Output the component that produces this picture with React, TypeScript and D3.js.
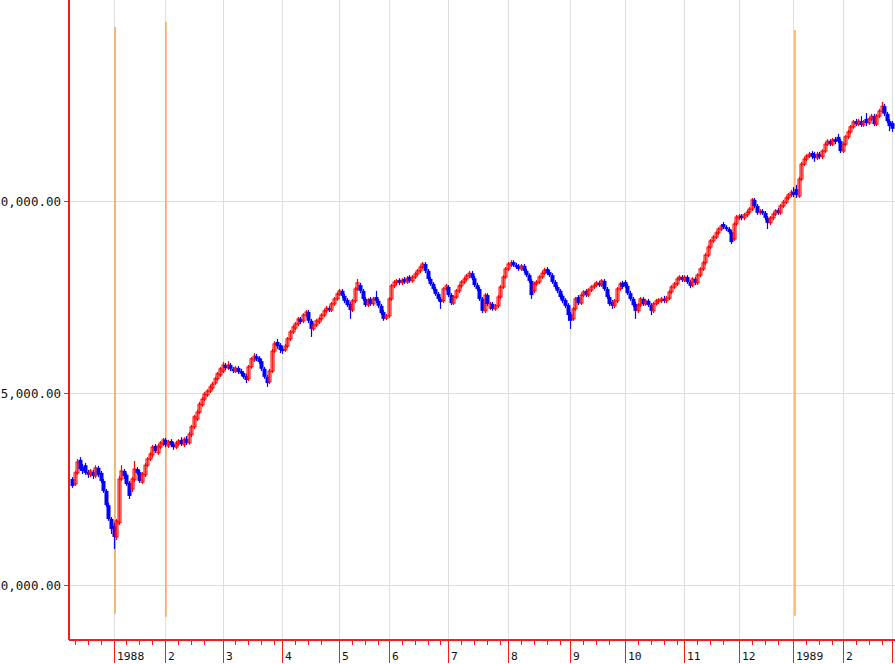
import React from "react";
import * as d3 from "d3";

type Bar = [number, number, number, number]; // open, high, low, close

// daily OHLC, one array per month
const dec87: Bar[] = [
  [22760, 22810, 22530, 22580], [22630, 22970, 22580, 22920], [22920, 23280, 22870, 23200],
  [23260, 23330, 22970, 23020], [23070, 23150, 22890, 22970], [23120, 23180, 22870, 22920],
  [22940, 23000, 22790, 22870], [22870, 23020, 22810, 22970], [22940, 23000, 22760, 22840],
  [22840, 23120, 22790, 23050], [23050, 23100, 22810, 22870], [22920, 22970, 22660, 22710],
  [22710, 22760, 22400, 22450], [22450, 22500, 22030, 22080], [22080, 22140, 21670, 21720],
  [21720, 21770, 21330, 21460],
];
const jan88: Bar[] = [
  [21540, 21620, 20940, 21250], [21250, 21720, 21170, 21670], [21620, 22840, 21560, 22760],
  [22760, 23120, 22710, 22970], [22970, 23020, 22760, 22840], [22870, 22920, 22580, 22630],
  [22660, 22710, 22240, 22320], [22500, 22810, 22420, 22760], [22740, 23230, 22680, 23020],
  [23020, 23070, 22870, 22920], [22940, 23000, 22660, 22710], [22680, 22940, 22630, 22890],
  [22870, 23180, 22810, 23120], [23120, 23330, 23070, 23280], [23280, 23460, 23230, 23410],
  [23390, 23650, 23330, 23590], [23620, 23670, 23440, 23490], [23440, 23670, 23390, 23620],
  [23590, 23750, 23540, 23700], [23670, 23830, 23620, 23780],
];
const feb88: Bar[] = [
  [23780, 23830, 23590, 23650], [23620, 23780, 23570, 23720], [23750, 23800, 23590, 23650],
  [23670, 23720, 23520, 23590], [23590, 23750, 23540, 23700], [23670, 23800, 23620, 23750],
  [23780, 23850, 23620, 23670], [23650, 23850, 23590, 23800], [23800, 23880, 23650, 23700],
  [23700, 23990, 23650, 23930], [23910, 24170, 23850, 24120], [24120, 24430, 24060, 24380],
  [24320, 24560, 24270, 24500], [24500, 24770, 24450, 24710], [24690, 24900, 24640, 24840],
  [24840, 25030, 24790, 24970], [24950, 25100, 24900, 25050], [25050, 25210, 25000, 25160],
  [25130, 25290, 25080, 25230], [25260, 25420, 25210, 25370], [25370, 25550, 25310, 25500],
  [25470, 25680, 25420, 25630],
];
const mar88: Bar[] = [
  [25570, 25810, 25520, 25730], [25730, 25780, 25600, 25650], [25650, 25830, 25600, 25730],
  [25730, 25780, 25570, 25630], [25630, 25680, 25520, 25570], [25570, 25700, 25520, 25650],
  [25650, 25700, 25500, 25550], [25570, 25630, 25440, 25500], [25520, 25570, 25370, 25420],
  [25440, 25500, 25260, 25340], [25370, 25730, 25310, 25680], [25680, 25940, 25630, 25890],
  [25860, 26040, 25810, 25960], [25960, 26020, 25830, 25890], [25910, 25960, 25760, 25810],
  [25830, 25890, 25570, 25630], [25630, 25680, 25370, 25420], [25420, 25470, 25160, 25260],
  [25290, 25630, 25230, 25570], [25570, 26150, 25520, 26090], [26090, 26350, 26040, 26280],
  [26330, 26410, 26150, 26220], [26250, 26300, 26040, 26120],
];
const apr88: Bar[] = [
  [26150, 26220, 26020, 26090], [26120, 26280, 26070, 26220], [26220, 26460, 26170, 26410],
  [26410, 26640, 26350, 26590], [26590, 26770, 26540, 26720], [26690, 26850, 26640, 26800],
  [26800, 26980, 26740, 26930], [26930, 26980, 26800, 26850], [26880, 27080, 26820, 27030],
  [27030, 27160, 26980, 27110], [27110, 27160, 26820, 26880], [26880, 26930, 26460, 26670],
  [26670, 26820, 26620, 26770], [26770, 26930, 26720, 26880], [26850, 26980, 26800, 26930],
  [26930, 27080, 26880, 27030], [27030, 27190, 26980, 27140], [27140, 27270, 27080, 27210],
  [27210, 27270, 27110, 27160], [27160, 27370, 27110, 27320], [27320, 27500, 27270, 27450],
  [27450, 27630, 27400, 27580],
];
const may88: Bar[] = [
  [27580, 27710, 27530, 27660], [27660, 27710, 27470, 27530], [27530, 27580, 27340, 27400],
  [27420, 27470, 27240, 27290], [27320, 27370, 26930, 27160], [27160, 27450, 27110, 27400],
  [27400, 27760, 27340, 27710], [27710, 27970, 27660, 27870], [27810, 27870, 27600, 27660],
  [27660, 27710, 27400, 27450], [27450, 27500, 27240, 27290], [27290, 27470, 27240, 27420],
  [27450, 27500, 27270, 27320], [27320, 27500, 27270, 27450], [27500, 27660, 27340, 27400],
  [27400, 27450, 27210, 27270], [27270, 27320, 27030, 27080], [27110, 27160, 26880, 26930],
  [26950, 27060, 26900, 27010],
];
const jun88: Bar[] = [
  [27010, 27500, 26950, 27450], [27450, 27840, 27400, 27790], [27790, 27940, 27730, 27890],
  [27870, 27970, 27810, 27920], [27940, 27990, 27810, 27870], [27870, 27990, 27810, 27940],
  [27970, 28020, 27840, 27890], [27890, 28050, 27840, 27990], [28020, 28070, 27870, 27920],
  [27920, 28070, 27870, 28020], [28020, 28150, 27970, 28100], [28100, 28230, 28050, 28180],
  [28180, 28330, 28120, 28280], [28280, 28410, 28230, 28360], [28360, 28410, 28120, 28180],
  [28180, 28230, 27920, 27970], [27970, 28020, 27790, 27840], [27840, 27890, 27660, 27710],
  [27710, 27760, 27530, 27580], [27580, 27630, 27400, 27450], [27450, 27500, 27190, 27370],
  [27400, 27760, 27340, 27710], [27710, 27840, 27660, 27790],
];
const jul88: Bar[] = [
  [27760, 27810, 27500, 27550], [27550, 27600, 27290, 27340], [27340, 27550, 27290, 27500],
  [27500, 27710, 27450, 27660], [27660, 27840, 27600, 27790], [27790, 27940, 27730, 27890],
  [27890, 28020, 27840, 27970], [27970, 28100, 27920, 28050], [28050, 28180, 27990, 28120],
  [28120, 28180, 27940, 27990], [27990, 28050, 27760, 27810], [27810, 27870, 27660, 27710],
  [27710, 27760, 27400, 27450], [27450, 27500, 27080, 27140], [27140, 27600, 27080, 27550],
  [27550, 27600, 27270, 27320], [27210, 27370, 27160, 27320], [27320, 27370, 27140, 27190],
  [27190, 27320, 27140, 27270], [27270, 27550, 27210, 27500], [27500, 27810, 27450, 27760],
  [27760, 28070, 27710, 28020], [28020, 28280, 27970, 28230],
];
const aug88: Bar[] = [
  [28230, 28410, 28180, 28360], [28330, 28460, 28280, 28390], [28410, 28460, 28280, 28330],
  [28330, 28390, 28230, 28280], [28310, 28360, 28180, 28230], [28230, 28360, 28180, 28310],
  [28310, 28360, 28120, 28180], [28180, 28230, 28020, 28070], [28070, 28120, 27870, 27920],
  [27920, 27970, 27450, 27550], [27660, 27890, 27600, 27840], [27840, 27940, 27790, 27890],
  [27890, 28070, 27840, 28020], [28020, 28180, 27970, 28120], [28120, 28260, 28070, 28200],
  [28230, 28280, 28070, 28120], [28150, 28200, 28020, 28070], [28070, 28120, 27840, 27890],
  [27890, 27940, 27710, 27760], [27760, 27810, 27600, 27660], [27660, 27710, 27450, 27500],
  [27530, 27580, 27340, 27400], [27420, 27470, 27210, 27270], [27290, 27340, 26880, 27030],
];
const sep88: Bar[] = [
  [27060, 27110, 26670, 26880], [26930, 27240, 26880, 27190], [27190, 27500, 27140, 27450],
  [27500, 27550, 27290, 27340], [27340, 27600, 27290, 27550], [27550, 27680, 27500, 27630],
  [27660, 27710, 27500, 27550], [27550, 27730, 27500, 27680], [27680, 27810, 27630, 27760],
  [27760, 27870, 27710, 27810], [27810, 27920, 27760, 27870], [27870, 27920, 27760, 27810],
  [27810, 27970, 27760, 27920], [27920, 27970, 27660, 27710], [27710, 27760, 27450, 27500],
  [27500, 27550, 27270, 27320], [27370, 27420, 27190, 27270], [27270, 27450, 27210, 27400],
  [27400, 27760, 27340, 27710], [27710, 27890, 27660, 27840], [27870, 27920, 27710, 27760],
];
const oct88: Bar[] = [
  [27890, 27940, 27730, 27790], [27790, 27840, 27550, 27600], [27600, 27660, 27400, 27450],
  [27450, 27500, 27240, 27290], [27320, 27370, 26930, 27140], [27140, 27340, 27080, 27290],
  [27290, 27500, 27240, 27450], [27450, 27500, 27270, 27320], [27320, 27450, 27270, 27400],
  [27400, 27450, 27240, 27290], [27290, 27340, 27030, 27140], [27140, 27370, 27080, 27320],
  [27320, 27450, 27270, 27400], [27370, 27470, 27320, 27420], [27400, 27500, 27340, 27450],
  [27450, 27530, 27340, 27400], [27400, 27530, 27340, 27470], [27470, 27680, 27420, 27630],
  [27630, 27810, 27580, 27760], [27760, 27890, 27710, 27840], [27840, 28020, 27790, 27970],
  [27970, 28070, 27920, 28020], [28020, 28070, 27890, 27940],
];
const nov88: Bar[] = [
  [27940, 28070, 27890, 28020], [28020, 28070, 27840, 27890], [27890, 27940, 27730, 27790],
  [27810, 28020, 27760, 27970], [27970, 28020, 27810, 27870], [27870, 28120, 27810, 28070],
  [28070, 28280, 28020, 28230], [28230, 28440, 28180, 28390], [28390, 28650, 28330, 28590],
  [28590, 28850, 28540, 28800], [28800, 29010, 28750, 28960], [28960, 29110, 28910, 29060],
  [29060, 29220, 29010, 29170], [29170, 29320, 29110, 29270], [29270, 29400, 29220, 29350],
  [29400, 29450, 29270, 29320], [29320, 29370, 29220, 29270], [29270, 29320, 29140, 29190],
  [29190, 29240, 28880, 28930], [29010, 29450, 28960, 29400], [29400, 29640, 29350, 29580],
];
const dec88: Bar[] = [
  [29560, 29660, 29500, 29610], [29610, 29660, 29500, 29560], [29560, 29690, 29500, 29640],
  [29640, 29770, 29580, 29710], [29710, 29840, 29660, 29790], [29790, 30080, 29740, 30030],
  [30030, 30080, 29820, 29870], [29870, 29920, 29640, 29690], [29690, 29790, 29640, 29740],
  [29740, 29790, 29640, 29690], [29690, 29740, 29500, 29560], [29560, 29610, 29270, 29430],
  [29430, 29610, 29370, 29560], [29560, 29710, 29500, 29660], [29660, 29790, 29610, 29740],
  [29770, 29820, 29640, 29690], [29690, 29920, 29640, 29870], [29870, 30030, 29820, 29970],
  [29970, 30130, 29920, 30080], [30080, 30210, 30030, 30160], [30160, 30290, 30100, 30230],
];
const jan89: Bar[] = [
  [30230, 30360, 30100, 30160], [30310, 30420, 30080, 30160], [30130, 30630, 30080, 30570],
  [30570, 31020, 30520, 30960], [30960, 31150, 30910, 31090], [31090, 31220, 31040, 31170],
  [31170, 31280, 31120, 31220], [31250, 31300, 31090, 31150], [31220, 31280, 31020, 31120],
  [31120, 31280, 31070, 31220], [31220, 31280, 31090, 31150], [31150, 31350, 31090, 31300],
  [31300, 31540, 31250, 31480], [31480, 31610, 31430, 31560], [31560, 31610, 31430, 31480],
  [31480, 31640, 31430, 31590], [31610, 31670, 31480, 31540], [31670, 31750, 31510, 31560],
  [31560, 31610, 31250, 31300],
];
const feb89: Bar[] = [
  [31300, 31540, 31250, 31480], [31480, 31720, 31430, 31670], [31670, 31850, 31610, 31800],
  [31800, 31980, 31750, 31930], [31930, 32110, 31880, 32060], [32080, 32140, 31950, 32000],
  [32000, 32140, 31950, 32080], [32080, 32210, 31930, 31980], [31980, 32110, 31930, 32060],
  [32140, 32290, 31950, 32030], [32030, 32190, 31980, 32140], [32140, 32270, 32080, 32210],
  [32210, 32270, 31950, 32000], [32000, 32270, 31950, 32210], [32210, 32400, 32160, 32340],
  [32340, 32580, 32290, 32470], [32470, 32530, 32210, 32270], [32270, 32320, 32030, 32080],
  [32080, 32140, 31820, 31950],
];
const mar89: Bar[] = [[32030, 32080, 31800, 31880]];

const months = [dec87, jan88, feb88, mar88, apr88, may88, jun88, jul88, aug88, sep88, oct88, nov88, dec88, jan89, feb89, mar89];
const monthLabels = ["", "1988", "2", "3", "4", "5", "6", "7", "8", "9", "10", "11", "12", "1989", "2", "3"];

const yTickValues = [20000, 25000, 30000];
const yTickLabels = ["20,000.00", "25,000.00", "30,000.00"];

// orange vertical markers: bar position, top price, bottom price
const markerAt = [16.6, 36.2, 278.6];
const markerTop = [34530, 34660, 34450];
const markerBottom = [19250, 19170, 19200];

const W = 895;
const H = 664;
const axisX = 69;
const axisY = 640;

export default function App() {
  const bars = months.flat();
  const starts: number[] = [];
  let acc = 0;
  months.forEach((m) => {
    starts.push(acc);
    acc += m.length;
  });

  const x = d3.scaleLinear().domain([0, bars.length - 1]).range([72, 892]);
  const y = d3.scaleLinear().domain([20000, 30000]).range([585, 201]);

  // weekly minor ticks
  const minor: number[] = [];
  starts.forEach((s, k) => {
    const end = k + 1 < starts.length ? starts[k + 1] : bars.length + 3;
    if (k === 0) {
      for (let t = starts[1] - 5; t >= 0; t -= 5) minor.push(t);
      return;
    }
    for (let t = s + 5; t < end - 2; t += 5) minor.push(t);
  });

  const red = "#ff1a1a";
  const px = (v: number) => Math.round(v) + 0.5;

  return (
    <svg width={W} height={H} style={{ position: "absolute", left: 0, top: 0, background: "#fff" }}>
      {/* grid */}
      <g stroke="#dedede" strokeWidth={1} shapeRendering="crispEdges">
        {starts.slice(1).map((s, k) => (
          <line key={"vg" + k} x1={px(x(s))} x2={px(x(s))} y1={0} y2={axisY} />
        ))}
        {yTickValues.map((v) => (
          <line key={"hg" + v} x1={axisX} x2={W} y1={px(y(v))} y2={px(y(v))} />
        ))}
      </g>

      {/* y labels (cut at the window edge as in the source) */}
      <g fontFamily="'DejaVu Sans Mono', monospace" fontSize={12.5} fill="#111">
        {yTickValues.map((v, k) => (
          <text key={"yl" + v} x={61} y={y(v)} dy="0.36em" textAnchor="end">
            {yTickLabels[k]}
          </text>
        ))}
      </g>

      {/* orange markers */}
      <g stroke="#ff9a2a" strokeWidth={1.3}>
        {markerAt.map((m, k) => (
          <line key={"mk" + k} x1={x(m)} x2={x(m)} y1={y(markerTop[k])} y2={y(markerBottom[k])} />
        ))}
      </g>

      {/* candles */}
      <g>
        {bars.map((b, i) => {
          const [o, h, l, c] = b;
          const up = c >= o;
          const cx = Math.round(x(i));
          const top = y(Math.max(o, c));
          const bot = y(Math.min(o, c));
          const col = up ? "#ff0000" : "#0000ff";
          return (
            <g key={"c" + i}>
              <line x1={cx + 0.5} x2={cx + 0.5} y1={y(h)} y2={y(l)} stroke={col} strokeWidth={1.2} />
              {up ? (
                <rect x={cx - 1} y={top} width={3} height={Math.max(1, bot - top)} fill="rgba(255,90,90,0.35)" stroke={col} strokeWidth={1} />
              ) : (
                <rect x={cx - 1.5} y={top} width={4} height={Math.max(2, bot - top)} fill={col} />
              )}
            </g>
          );
        })}
      </g>

      {/* axes */}
      <g stroke={red} strokeWidth={1.5} shapeRendering="crispEdges">
        <line x1={axisX} x2={axisX} y1={0} y2={axisY} />
        <line x1={axisX} x2={W} y1={axisY} y2={axisY} />
        {yTickValues.map((v) => (
          <line key={"yt" + v} x1={64} x2={axisX} y1={px(y(v))} y2={px(y(v))} />
        ))}
        {minor.map((t) => (
          <line key={"mt" + t} x1={px(x(t))} x2={px(x(t))} y1={axisY} y2={axisY + 5} />
        ))}
        {starts.slice(1).map((s, k) => (
          <line key={"Mt" + k} x1={px(x(s))} x2={px(x(s))} y1={axisY} y2={H - 1} />
        ))}
      </g>
      <g fontFamily="'DejaVu Sans Mono', monospace" fontSize={11.3} fill="#111">
        {starts.slice(1).map((s, k) => (
          <text key={"xl" + k} x={px(x(s)) + 2.5} y={660}>
            {monthLabels[k + 1]}
          </text>
        ))}
      </g>
    </svg>
  );
}
